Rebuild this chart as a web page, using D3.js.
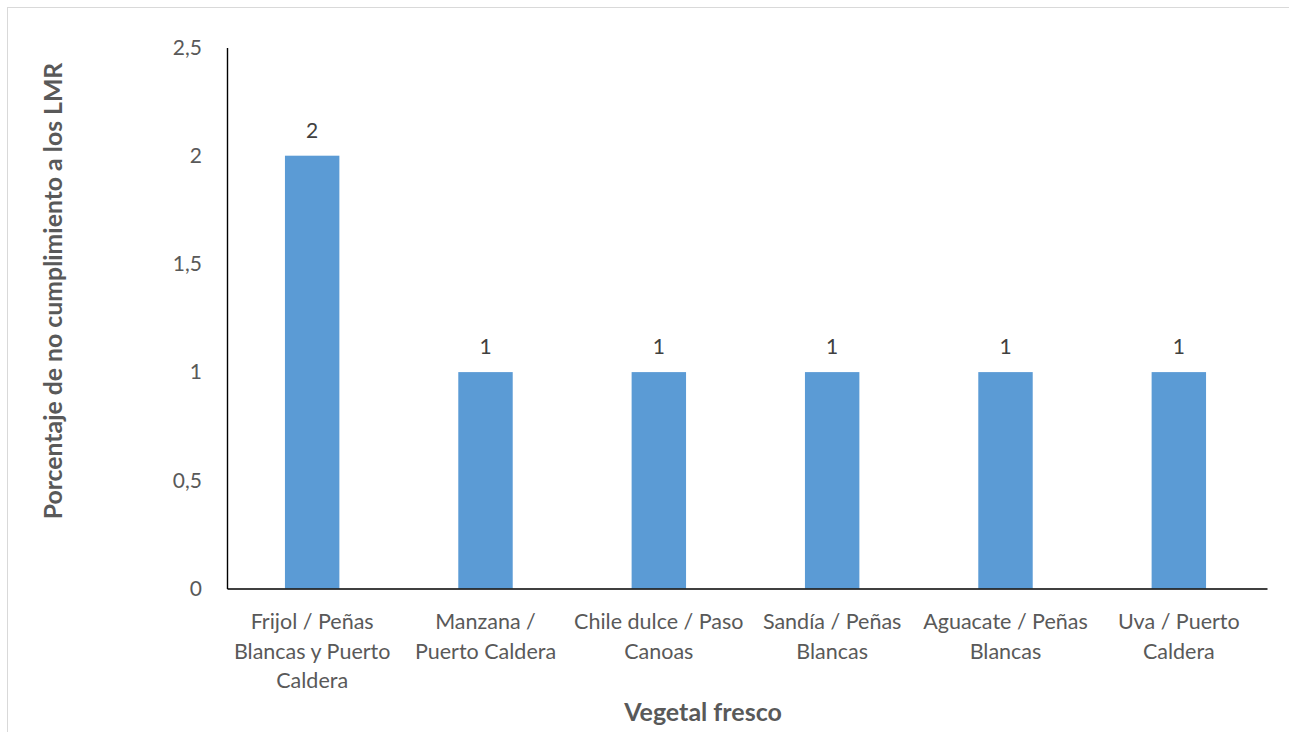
<!DOCTYPE html>
<html>
<head>
<meta charset="utf-8">
<script src="https://cdn.jsdelivr.net/npm/d3@7"></script>
<style>
  html, body { margin: 0; padding: 0; background: #fff; }
  svg { display: block; }
</style>
</head>
<body>
<svg id="chart" width="1289" height="732"></svg>
<script>
// Categories (product / entry point), line breaks mark label wrapping
const categories = [
  "Frijol / Peñas\nBlancas y Puerto\nCaldera",
  "Manzana /\nPuerto Caldera",
  "Chile dulce / Paso\nCanoas",
  "Sandía / Peñas\nBlancas",
  "Aguacate / Peñas\nBlancas",
  "Uva / Puerto\nCaldera"
];
const values = [2, 1, 1, 1, 1, 1];
const yTicks = [0, 0.5, 1, 1.5, 2, 2.5];
const yTitle = "Porcentaje de no cumplimiento a los LMR";
const xTitle = "Vegetal fresco";

const font = "Lato, 'Open Sans', sans-serif";
const textColor = "#595959";
const barColor = "#5B9BD5";

const svg = d3.select("#chart");

// outer chart frame
svg.append("rect")
  .attr("x", 7.5).attr("y", 7.5)
  .attr("width", 1300).attr("height", 800)
  .attr("fill", "none").attr("stroke", "#d9d9d9").attr("stroke-width", 1);

const plot = { left: 227, right: 1267, top: 47.5, bottom: 588.5 };

const x = d3.scaleBand()
  .domain(d3.range(categories.length))
  .range([plot.left, plot.right])
  .paddingInner(0).paddingOuter(0);

const y = d3.scaleLinear()
  .domain([0, 2.5])
  .range([plot.bottom, plot.top]);

const barW = x.bandwidth() * 0.314;
const cx = i => x(i) + x.bandwidth() / 2 - 1.5;

// bars
svg.append("g").selectAll("rect")
  .data(values)
  .join("rect")
  .attr("x", (d, i) => cx(i) - barW / 2)
  .attr("y", d => y(d))
  .attr("width", barW)
  .attr("height", d => y(0) - y(d))
  .attr("fill", barColor);

// value labels
svg.append("g").selectAll("text")
  .data(values)
  .join("text")
  .attr("x", (d, i) => cx(i))
  .attr("y", d => y(d) - 18)
  .attr("text-anchor", "middle")
  .attr("font-family", font).attr("font-size", 21)
  .attr("fill", "#404040")
  .text(d => String(d).replace(".", ","));

// y axis: line + labels, no tick marks
const yAxis = d3.axisLeft(y)
  .tickValues(yTicks)
  .tickSize(0)
  .tickPadding(25)
  .tickFormat(d => d3.format("~g")(d).replace(".", ","));
const gy = svg.append("g")
  .attr("transform", `translate(${plot.left},0)`)
  .call(yAxis);
gy.select(".domain").attr("stroke", "#000").attr("stroke-width", 1.4);
gy.selectAll("text")
  .attr("font-family", font).attr("font-size", 21)
  .attr("fill", textColor);

// x axis line
const xAxis = d3.axisBottom(x).tickSize(0).tickFormat("");
const gx = svg.append("g")
  .attr("transform", `translate(0,${plot.bottom})`)
  .call(xAxis);
gx.select(".domain").attr("stroke", "#000").attr("stroke-width", 1.4);

// category labels (multi-line)
const catG = svg.append("g");
categories.forEach((c, i) => {
  const t = catG.append("text")
    .attr("text-anchor", "middle")
    .attr("font-family", font).attr("font-size", 21.5)
    .attr("fill", textColor);
  c.split("\n").forEach((line, k) => {
    t.append("tspan")
      .attr("x", cx(i))
      .attr("y", 629 + k * 29.5)
      .text(line);
  });
});

// axis titles
svg.append("text")
  .attr("x", 703).attr("y", 721)
  .attr("text-anchor", "middle")
  .attr("font-family", font).attr("font-size", 25).attr("font-weight", "bold")
  .attr("fill", textColor)
  .text(xTitle);

svg.append("text")
  .attr("transform", "translate(62,291) rotate(-90)")
  .attr("text-anchor", "middle")
  .attr("font-family", font).attr("font-size", 24.8).attr("font-weight", "bold")
  .attr("fill", textColor)
  .text(yTitle);
</script>
</body>
</html>
